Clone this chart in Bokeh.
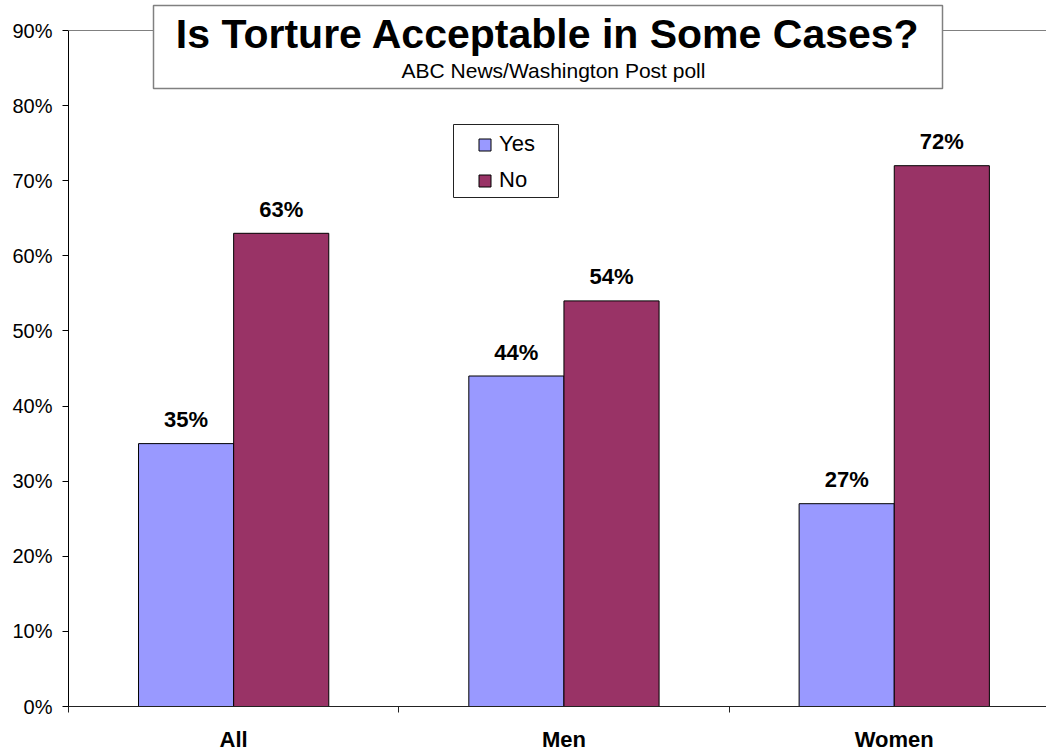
from bokeh.plotting import figure
from bokeh.models import FixedTicker, Span, BoxAnnotation, Label, Legend, ColumnDataSource
from bokeh.core.properties import value
from bokeh.embed import file_html
from bokeh.resources import INLINE

categories = ["All", "Men", "Women"]
yes = [35, 44, 27]
no = [63, 54, 72]
y_ticks = [0, 10, 20, 30, 40, 50, 60, 70, 80, 90]
title = "Is Torture Acceptable in Some Cases?"
subtitle = "ABC News/Washington Post poll"

FONT = "Liberation Sans"
YES_COLOR = "#9999FF"
NO_COLOR = "#993366"

# layout constants (pixels)
FRAME_W = 978
TOP = 2                      # frame top (image y)
BOTTOM = 706                 # frame bottom (image y) = 0%
AXIS_TOP = 30                # image y of 90%
FRAME_H = BOTTOM - TOP
CAT_PX = 330.3
PX_PER_UNIT = (BOTTOM - AXIS_TOP) / 90.0

def xd(px):  # image x -> data x
    return (px - 68) / CAT_PX

def yd(py):  # image y -> data y
    return (BOTTOM - py) / PX_PER_UNIT

bar_w = 0.288
centers = [i + 0.5 for i in range(len(categories))]
yes_x = [c - bar_w / 2 for c in centers]
no_x = [c + bar_w / 2 for c in centers]

src_yes = ColumnDataSource(dict(x=yes_x, top=yes, lbl=[f"{v}%" for v in yes]))
src_no = ColumnDataSource(dict(x=no_x, top=no, lbl=[f"{v}%" for v in no]))

p = figure(frame_width=FRAME_W, frame_height=FRAME_H,
           x_range=(0, FRAME_W / CAT_PX), y_range=(0, FRAME_H / PX_PER_UNIT),
           output_backend="svg", toolbar_location=None,
           min_border_left=68, min_border_right=0, min_border_top=TOP, min_border_bottom=40)
p.outline_line_color = None
p.xgrid.visible = False
p.ygrid.visible = False
p.background_fill_color = "white"
p.border_fill_color = "white"

# y axis (stops at 90%)
p.yaxis.bounds = (y_ticks[0], y_ticks[-1])
p.yaxis.ticker = FixedTicker(ticks=y_ticks, minor_ticks=[])
p.yaxis.major_label_overrides = {t: f"{t}%" for t in y_ticks}
p.yaxis.axis_line_color = "black"
p.yaxis.major_tick_line_color = "black"
p.yaxis.major_tick_out = 6
p.yaxis.major_tick_in = 0
p.yaxis.major_label_standoff = 10
p.yaxis.major_label_text_font = FONT
p.yaxis.major_label_text_font_size = "20px"
p.yaxis.major_label_text_color = "black"

# x axis
p.xaxis.ticker = FixedTicker(ticks=centers, minor_ticks=list(range(len(categories) + 1)))
p.xaxis.major_label_overrides = {c: n for c, n in zip(centers, categories)}
p.xaxis.axis_line_color = "#222222"
p.xaxis.major_tick_line_color = None
p.xaxis.major_tick_out = 0
p.xaxis.major_tick_in = 0
p.xaxis.minor_tick_line_color = "#222222"
p.xaxis.minor_tick_out = 6
p.xaxis.minor_tick_in = 0
p.xaxis.major_label_standoff = 14
p.xaxis.major_label_text_font = FONT
p.xaxis.major_label_text_font_style = "bold"
p.xaxis.major_label_text_font_size = "22px"
p.xaxis.major_label_text_color = "black"

# top line at 90%
p.add_layout(Span(location=y_ticks[-1], dimension="width", line_color="#808080", line_width=1))

r_yes = p.vbar(x="x", top="top", width=bar_w, bottom=0, source=src_yes,
               fill_color=YES_COLOR, line_color="black", line_width=1)
r_no = p.vbar(x="x", top="top", width=bar_w, bottom=0, source=src_no,
              fill_color=NO_COLOR, line_color="black", line_width=1)

for src in (src_yes, src_no):
    p.text(x="x", y="top", text="lbl", source=src, text_align="center",
           text_baseline="alphabetic", y_offset=-24,
           text_font=value(FONT), text_font_style="bold",
           text_font_size="22px", text_color="black")

# title box
p.add_layout(BoxAnnotation(left=xd(153), right=xd(942), top=yd(5), bottom=yd(88),
                           fill_color="white", fill_alpha=1.0,
                           line_color="#808080", line_alpha=1.0, line_width=1.5))
p.add_layout(Label(x=xd(547.5), y=yd(33), text=title, text_align="center",
                   text_baseline="alphabetic", text_font=FONT, text_font_style="bold",
                   text_font_size="41px", text_color="black"))
p.add_layout(Label(x=xd(553), y=yd(69.5), text=subtitle, text_align="center",
                   text_baseline="alphabetic", text_font=FONT,
                   text_font_size="21px", text_color="black"))

# legend box
p.add_layout(BoxAnnotation(left=xd(453), right=xd(558), top=yd(124), bottom=yd(197),
                           fill_color="white", fill_alpha=1.0,
                           line_color="#222222", line_alpha=1.0, line_width=1))
legend = Legend(items=[("Yes", [r_yes]), ("No", [r_no])],
                location=(409, 513), margin=0, padding=0, spacing=10,
                glyph_width=15, glyph_height=15, label_standoff=7,
                label_text_font=FONT, label_text_font_size="22px",
                label_text_color="black",
                border_line_color=None, background_fill_alpha=0)
p.add_layout(legend)

open("out.html", "w").write(file_html(p, INLINE))
